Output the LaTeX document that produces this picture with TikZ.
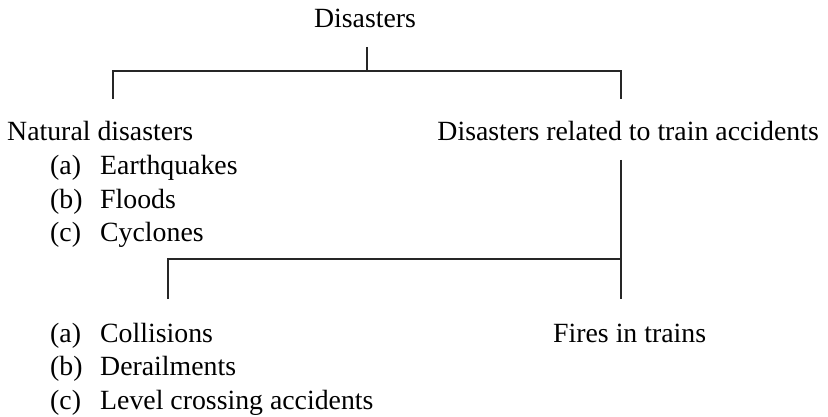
\documentclass[tikz,border=0pt]{standalone}
\usepackage{fontspec}
\setmainfont{Liberation Serif}
\usetikzlibrary{positioning}

\begin{document}
\begin{tikzpicture}[x=1pt,y=-1pt,
  lbl/.style={inner sep=0pt,anchor=base west,font=\fontsize{27.8}{33.4}\selectfont},
  branch/.style={line width=1.2pt,black!85}]
  \useasboundingbox (0,0) rectangle (828,417);
  % headings
  \node[lbl,anchor=base] (root) at (365,28) {Disasters};
  \node[lbl] (natural) at (7,141) {Natural disasters};
  \node[lbl,anchor=base east] (train) at (819,141) {Disasters related to train accidents};
  \node[lbl] (fires) at (553,342) {Fires in trains};
  % lists
  \foreach \tag/\txt [count=\i] in {a/Earthquakes,b/Floods,c/Cyclones}{
    \node[lbl] (nat-tag\i) at (50,141+33.5*\i) {(\tag)};
    \node[lbl] (nat\i) at (100,141+33.5*\i) {\txt};
  }
  \foreach \tag/\txt [count=\i] in {a/Collisions,b/Derailments,c/Level crossing accidents}{
    \node[lbl] (col-tag\i) at (50,308.5+33.5*\i) {(\tag)};
    \node[lbl] (col\i) at (100,308.5+33.5*\i) {\txt};
  }
  % tree lines
  \coordinate (stem) at (367,47);
  \coordinate (lefttop) at (113,71);
  \coordinate (righttop) at (621,71);
  \coordinate (leftdrop) at (113,99);
  \coordinate (rightdrop) at (621,99);
  \coordinate (trainstem) at (621,160);
  \coordinate (firedrop) at (621,299);
  \coordinate (lowleft) at (168,259);
  \coordinate (collidrop) at (168,299);
  \draw[branch] (stem) -- (stem |- lefttop);
  \draw[branch] (leftdrop) -- (lefttop) -- (righttop) -- (rightdrop);
  \draw[branch] (trainstem) -- (firedrop);
  \draw[branch] (collidrop) -- (lowleft) -- (lowleft -| trainstem);
\end{tikzpicture}
\end{document}
